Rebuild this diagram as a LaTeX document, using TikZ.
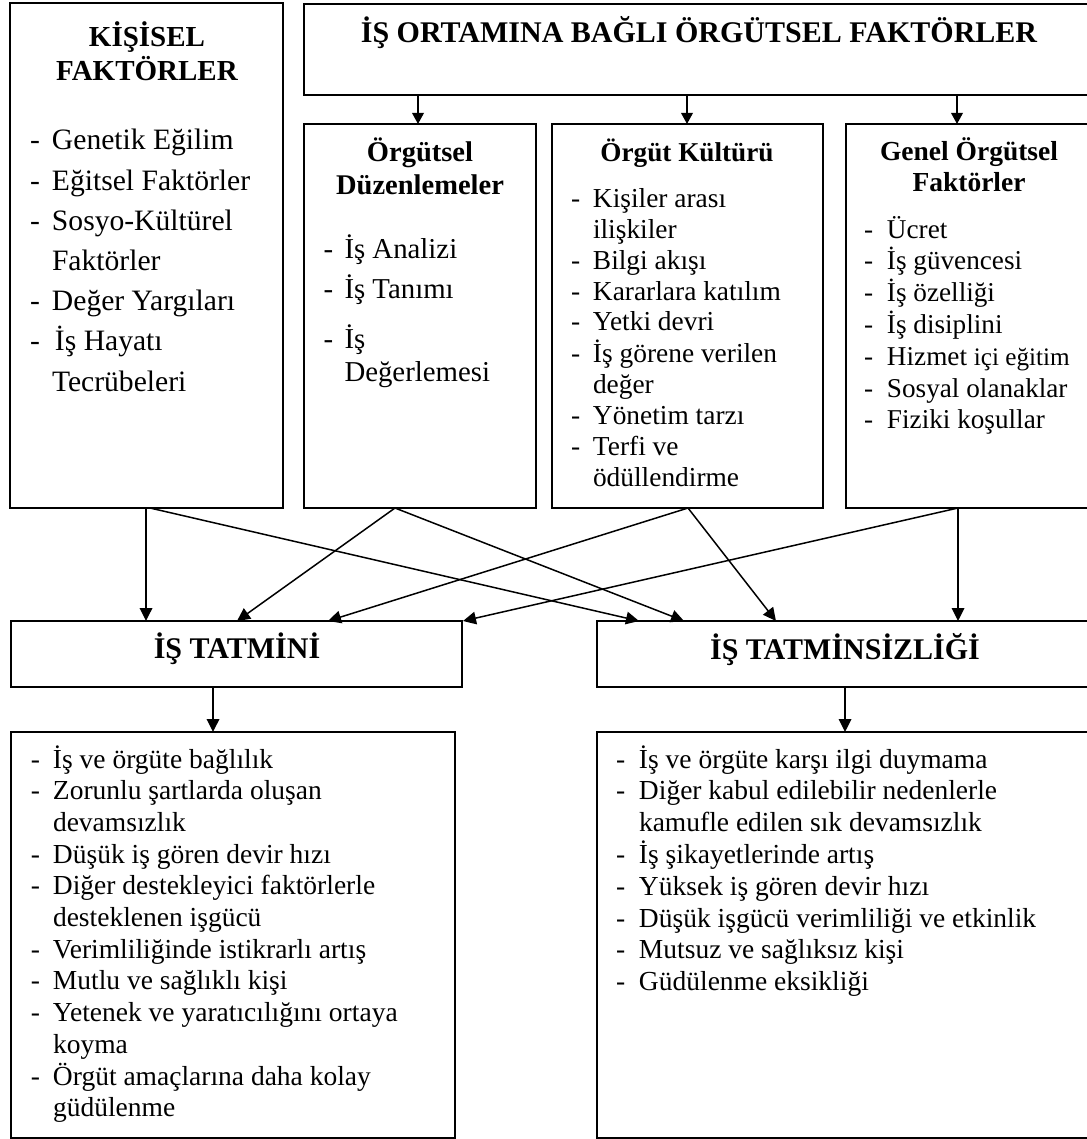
\documentclass[tikz,border=0pt]{standalone}
\usepackage{fontspec}
\setmainfont{Liberation Serif}
\usetikzlibrary{arrows.meta}
\newcommand{\fsz}[2]{\fontsize{#1pt}{#2pt}\selectfont}
\begin{document}
\begin{tikzpicture}[x=0.5pt,y=-0.5pt,
  box/.style={draw, line width=1pt, inner sep=0pt, outer sep=0pt, anchor=north west},
  txt/.style={inner sep=0pt, outer sep=0pt, anchor=base west},
  ttl/.style={inner sep=0pt, outer sep=0pt, anchor=base, font=\bfseries},
  arr/.style={line width=0.75pt, -{Triangle[length=6.5pt,width=6.3pt]}},
  arrs/.style={line width=0.75pt, -{Triangle[length=5.5pt,width=5.8pt]}}]
\useasboundingbox (0,0) rectangle (1086,1139);

% boxes
\node[box, minimum width=136.5pt, minimum height=252.5pt] (kisisel) at (10,3) {};
\node[box, minimum width=395pt, minimum height=45.5pt] (ortam) at (304,4) {};
\node[box, minimum width=116pt, minimum height=192pt] (duzen) at (304,124) {};
\node[box, minimum width=135.5pt, minimum height=192pt] (kultur) at (552,124) {};
\node[box, minimum width=123pt, minimum height=192pt] (genel) at (846,124) {};
\node[box, minimum width=225.5pt, minimum height=33pt] (tatmin) at (11,621) {};
\node[box, minimum width=248pt, minimum height=33pt] (tatminsiz) at (597,621) {};
\node[box, minimum width=222pt, minimum height=203pt] (sonuc) at (11,732) {};
\node[box, minimum width=248pt, minimum height=203pt] (sonucsiz) at (597,732) {};

% titles
\node[ttl] (tkis) at (147,47) {\fsz{14.5}{15.5}\begin{tabular}[t]{@{}c@{}}KİŞİSEL\\FAKTÖRLER\end{tabular}};
\node[ttl] (tort) at (699,43) {\fsz{15}{17}İŞ ORTAMINA BAĞLI ÖRGÜTSEL FAKTÖRLER};
\node[ttl] (tduz) at (420,162) {\fsz{14.25}{16.5}\begin{tabular}[t]{@{}c@{}}Örgütsel\\Düzenlemeler\end{tabular}};
\node[ttl] (tkul) at (687,162) {\fsz{13.6}{15.5}Örgüt Kültürü};
\node[ttl] (tgen) at (969,161) {\fsz{13.75}{15.5}\begin{tabular}[t]{@{}c@{}}Genel Örgütsel\\Faktörler\end{tabular}};
\node[ttl] (ttat) at (237,658) {\fsz{15}{17}İŞ TATMİNİ};
\node[ttl] (ttats) at (845,659) {\fsz{15}{17}İŞ TATMİNSİZLİĞİ};

% lists
\node[txt] (lkis) at (30,150) {\fsz{14.8}{20.1}\begin{tabular}[t]{@{}p{11pt}@{}l@{}}
- & Genetik Eğilim\\
- & Eğitsel Faktörler\\
- & Sosyo-Kültürel\\
  & Faktörler\\
- & Değer Yargıları\\
- & \hspace{1.5pt}İş Hayatı\\
  & Tecrübeleri
\end{tabular}};

\node[txt] (lduz) at (323.5,258) {\fsz{14.4}{16.5}\begin{tabular}[t]{@{}p{10.5pt}@{}l@{}}
- & İş Analizi\\[3.5pt]
- & İş Tanımı\\[8pt]
- & İş\\
  & Değerlemesi
\end{tabular}};

\node[txt] (lkul) at (571,207) {\fsz{13.7}{15.5}\begin{tabular}[t]{@{}p{11pt}@{}l@{}}
- & Kişiler arası\\
  & ilişkiler\\
- & Bilgi akışı\\
- & Kararlara katılım\\
- & Yetki devri\\
- & İş görene verilen\\
  & değer\\
- & Yönetim tarzı\\
- & Terfi ve\\
  & ödüllendirme
\end{tabular}};

\node[txt] (lgen) at (864,238) {\fsz{13.6}{15.85}\begin{tabular}[t]{@{}p{11.5pt}@{}l@{}}
- & Ücret\\
- & İş güvencesi\\
- & İş özelliği\\
- & İş disiplini\\
- & Hizmet {\fontsize{12.6pt}{15.85pt}\selectfont içi eğitim}\\
- & Sosyal olanaklar\\
- & Fiziki koşullar
\end{tabular}};

\node[txt] (lson) at (31,768) {\fsz{13.75}{15.85}\begin{tabular}[t]{@{}p{11pt}@{}l@{}}
- & İş ve örgüte bağlılık\\
- & Zorunlu şartlarda oluşan\\
  & devamsızlık\\
- & Düşük iş gören devir hızı\\
- & Diğer destekleyici faktörlerle\\
  & desteklenen işgücü\\
- & Verimliliğinde istikrarlı artış\\
- & Mutlu ve sağlıklı kişi\\
- & Yetenek ve yaratıcılığını ortaya\\
  & koyma\\
- & Örgüt amaçlarına daha kolay\\
  & güdülenme
\end{tabular}};

\node[txt] (lsons) at (616,768) {\fsz{13.75}{15.85}\begin{tabular}[t]{@{}p{11.5pt}@{}l@{}}
- & İş ve örgüte karşı ilgi duymama\\
- & Diğer kabul edilebilir nedenlerle\\
  & kamufle edilen sık devamsızlık\\
- & İş şikayetlerinde artış\\
- & Yüksek iş gören devir hızı\\
- & Düşük işgücü verimliliği ve etkinlik\\
- & Mutsuz ve sağlıksız kişi\\
- & Güdülenme eksikliği
\end{tabular}};

% x positions of connector ends
\coordinate (xa) at (418,0);
\coordinate (xb) at (687,0);
\coordinate (xc) at (957,0);
\coordinate (xk1) at (146,0);
\coordinate (xk2) at (150,0);
\coordinate (xd) at (395,0);
\coordinate (xu) at (688,0);
\coordinate (xg) at (958,0);
\coordinate (e1) at (237,0);
\coordinate (e2) at (328,0);
\coordinate (e3) at (463,0);
\coordinate (f1) at (639,0);
\coordinate (f2) at (684,0);
\coordinate (f3) at (776,0);
\coordinate (xt) at (213,0);
\coordinate (xs) at (845,0);

% connectors
\draw[arrs] (ortam.south -| xa) -- (duzen.north -| xa);
\draw[arrs] (ortam.south -| xb) -- (kultur.north -| xb);
\draw[arrs] (ortam.south -| xc) -- (genel.north -| xc);

\draw[arr] (kisisel.south -| xk1) -- (tatmin.north -| xk1);
\draw[arr] (kisisel.south -| xk2) -- (tatminsiz.north -| f1);
\draw[arr] (duzen.south -| xd) -- (tatmin.north -| e1);
\draw[arr] (duzen.south -| xd) -- (tatminsiz.north -| f2);
\draw[arr] (kultur.south -| xu) -- (tatmin.north -| e2);
\draw[arr] (kultur.south -| xu) -- (tatminsiz.north -| f3);
\draw[arr] (genel.south -| xg) -- (tatmin.north -| e3);
\draw[arr] (genel.south -| xg) -- (tatminsiz.north -| xg);

\draw[arr] (tatmin.south -| xt) -- (sonuc.north -| xt);
\draw[arr] (tatminsiz.south -| xs) -- (sonucsiz.north -| xs);
\end{tikzpicture}
\end{document}
